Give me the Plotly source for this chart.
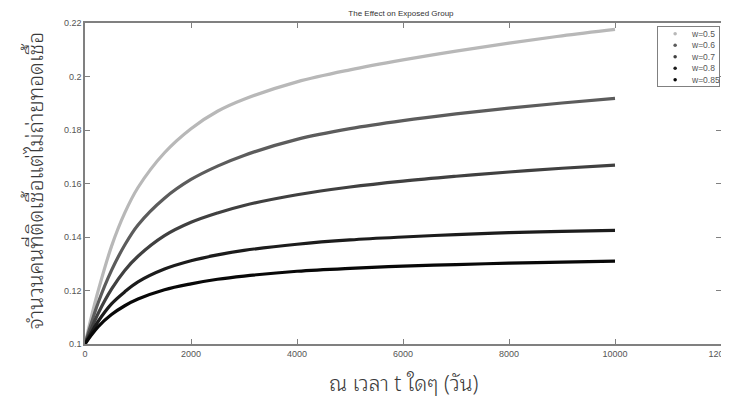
import plotly.graph_objects as go

# time points (days)
t = [0, 100, 250, 500, 750, 1000, 1500, 2000, 2500, 3000, 4000, 5000, 6000, 7000, 8000, 9000, 10000]

w05 = [0.1, 0.1085, 0.120, 0.1365, 0.149, 0.1585, 0.1715, 0.1805, 0.187, 0.1915, 0.1980, 0.2025, 0.2062, 0.2095, 0.2125, 0.2152, 0.2176]
w06 = [0.1, 0.1065, 0.1155, 0.1275, 0.137, 0.1445, 0.1545, 0.1615, 0.1665, 0.1705, 0.1765, 0.1805, 0.1835, 0.186, 0.1882, 0.1901, 0.1918]
w07 = [0.1, 0.1048, 0.1115, 0.1205, 0.1275, 0.1328, 0.1405, 0.1455, 0.149, 0.1518, 0.1558, 0.1587, 0.1609, 0.1627, 0.1643, 0.1657, 0.1669]
w08 = [0.1, 0.1035, 0.1085, 0.1150, 0.1195, 0.1232, 0.1280, 0.1311, 0.1333, 0.1350, 0.1373, 0.1389, 0.1400, 0.1409, 0.1416, 0.1421, 0.1425]
w085 = [0.1, 0.1028, 0.1065, 0.1110, 0.1143, 0.1168, 0.1203, 0.1225, 0.1242, 0.1254, 0.1272, 0.1283, 0.1291, 0.1297, 0.1302, 0.1306, 0.1310]

series_names = ["w=0.5", "w=0.6", "w=0.7", "w=0.8", "w=0.85"]
series_vals = [w05, w06, w07, w08, w085]
colors = ["#b8b8b8", "#5c5c5c", "#404040", "#1c1c1c", "#080808"]

x_ticks = [0, 2000, 4000, 6000, 8000, 10000, 12000]
y_ticks = [0.1, 0.12, 0.14, 0.16, 0.18, 0.2, 0.22]
y_tick_text = ["0.1", "0.12", "0.14", "0.16", "0.18", "0.2", "0.22"]

title_text = "The Effect on Exposed Group"
x_title = "ณ เวลา t ใดๆ (วัน)"
y_title = "จำนวนคนที่ติดเชื้อแต่ไม่ถ่ายทอดเชื้อ"

fig = go.Figure()
for name, vals, c in zip(series_names, series_vals, colors):
    fig.add_trace(go.Scatter(x=t, y=vals, mode="lines", name=name,
                             line=dict(color=c, width=3.2, shape="spline", smoothing=1.0),
                             showlegend=False, hoverinfo="skip"))

# hand-made legend (compact, like the original) on an auxiliary axis pair
legend_idx = list(range(len(series_names)))
fig.add_trace(go.Scatter(x=[0.28] * len(series_names), y=legend_idx, mode="markers",
                         marker=dict(color=colors, size=3.5), xaxis="x2", yaxis="y2",
                         showlegend=False, hoverinfo="skip"))
for i, name in zip(legend_idx, series_names):
    fig.add_annotation(x=0.5, y=i, xref="x2", yref="y2", text=name, showarrow=False,
                       xanchor="left", yanchor="middle",
                       font=dict(family="Liberation Sans, Arial", size=8.5, color="#555555"))

thai = "Noto Sans Thai Looped, Noto Sans Thai, Noto Sans, Tahoma, sans-serif"
tickfont = dict(family="Liberation Sans, Arial", size=9, color="#555555")
axis_common = dict(showline=True, linecolor="#808080", linewidth=1.5, mirror="ticks",
                   ticks="inside", ticklen=5, tickcolor="#808080", showgrid=False, zeroline=False,
                   tickfont=tickfont, automargin=False, ticklabeloverflow="allow")

# axis titles as annotations (exact placement)
fig.add_annotation(x=0.5, y=-0.118, xref="paper", yref="paper", text=x_title, showarrow=False,
                   xanchor="center", yanchor="middle",
                   font=dict(family=thai, size=21, color="#3a3a3a", weight=300))
fig.add_annotation(x=-0.082, y=0.51, xref="paper", yref="paper", text=y_title, showarrow=False,
                   textangle=-90, xanchor="center", yanchor="middle",
                   font=dict(family=thai, size=21, color="#3a3a3a", weight=300))

fig.update_layout(
    width=721, height=398,
    margin=dict(l=77, r=8, t=15, b=62),
    paper_bgcolor="white", plot_bgcolor="white",
    title=dict(text=title_text, x=0.545, xanchor="center", y=0.988, yanchor="middle",
               font=dict(family="Liberation Sans, Arial", size=8, color="#333333")),
    xaxis=dict(range=[0, 12000], tickvals=x_ticks, ticktext=[str(v) for v in x_ticks], **axis_common),
    yaxis=dict(range=[0.1, 0.22], tickvals=y_ticks, ticktext=y_tick_text, **axis_common),
    xaxis2=dict(domain=[0.901, 0.997], range=[0, 1], anchor="y2", showline=True, mirror=True,
                linecolor="#808080", linewidth=1, showticklabels=False, ticks="", showgrid=False,
                zeroline=False, fixedrange=True),
    yaxis2=dict(domain=[0.803, 0.9866], range=[4.564, -0.564], anchor="x2", showline=True, mirror=True,
                linecolor="#808080", linewidth=1, showticklabels=False, ticks="", showgrid=False,
                zeroline=False, fixedrange=True),
    showlegend=False,
)

fig.write_html("out.html")
